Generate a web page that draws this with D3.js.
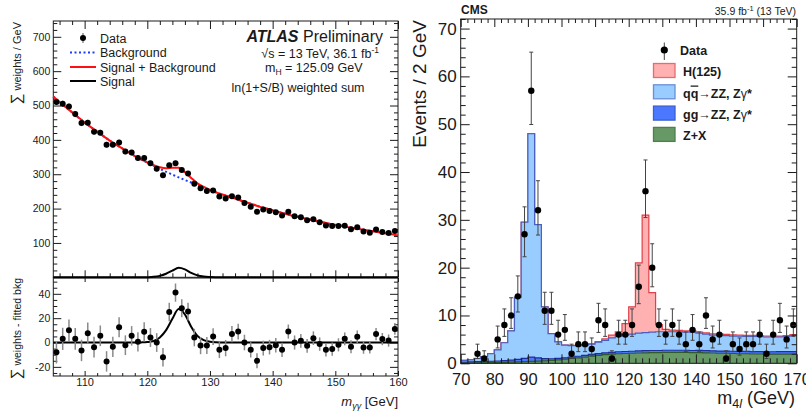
<!DOCTYPE html>
<html>
<head>
<meta charset="utf-8">
<script src="https://cdn.jsdelivr.net/npm/d3@7"></script>
<style>
  body { margin: 0; background: #fff; }
  svg { display: block; }
  text { font-family: "Liberation Sans", Arial, Helvetica, sans-serif; fill: #1a1a1a; }
</style>
</head>
<body>
<svg id="chart" width="806" height="413"></svg>
<script>
// ---- left: ATLAS diphoton, ln(1+S/B) weighted ----
var atlasBinLo = 105, atlasBinWidth = 1;
var atlasData = [510, 505, 497, 475, 449, 450, 424, 421, 386, 386,
                 392, 366, 363, 347, 347, 332, 316, 297, 326, 332,
                 312, 302, 272, 259, 251, 253, 235, 229, 236, 232,
                 216, 205, 191, 197, 193, 189, 180, 191, 178, 175,
                 166, 169, 160, 151, 149, 149, 150, 140, 146, 133,
                 130, 139, 132, 129, 135];
var atlasResid = [-8, 3, 10, 3, -6.5, 7.7, -3.8, 5.5, -15.5, -3.5,
                  12.6, -2.2, 5.5, 0.6, 8.8, 4.1, 0, -12, 25, 41,
                  28.2, 25.4, 4.1, -2.5, -2.5, 4.9, -6, -4.6, 6.9, 9,
                  0, -6, -15, -4.6, -3.8, -2.2, -6, 9, 0, 1.4,
                  -2.7, 3.6, -1.3, -6, -5.4, -1.9, 3, -3.5, 4.7, -4,
                  -4, 6.9, 2.8, 1.6, 11.2];
var atlasErr = [9.2, 9.1, 9.0, 8.9, 8.8, 8.7, 8.6, 8.5, 8.4, 8.3,
                8.2, 8.1, 8.0, 7.9, 7.9, 7.8, 7.7, 7.6, 7.6, 7.5,
                7.4, 7.3, 7.2, 7.1, 7.0, 6.9, 6.8, 6.7, 6.6, 6.5,
                6.4, 6.3, 6.2, 6.1, 6.0, 6.0, 5.9, 5.8, 5.8, 5.7,
                5.6, 5.6, 5.5, 5.5, 5.4, 5.4, 5.3, 5.3, 5.2, 5.2,
                5.1, 5.1, 5.0, 5.0, 4.9];
// fitted curves sampled every 1 GeV from 105 to 160
var fitMassLo = 105;
var fitBkg = [526, 510, 495, 480, 465, 451, 437, 424, 411, 398,
              386, 375, 364, 353, 343, 334, 325, 316, 307, 299,
              291, 283, 276, 268, 261, 254, 247, 241, 235, 229,
              223, 217, 211, 205, 200, 195, 190, 185, 180, 176,
              172, 168, 164, 160, 156, 153, 150, 146, 143, 140,
              137, 134, 131, 128, 125, 122];
var fitSig = [0, 0, 0, 0, 0, 0, 0, 0, 0, 0,
              0, 0, 0, 0, 0.1, 0.4, 1.3, 4.2, 10.2, 19.5,
              27.5, 23, 13, 5.5, 2, 0.7, 0.2, 0, 0, 0,
              0, 0, 0, 0, 0, 0, 0, 0, 0, 0,
              0, 0, 0, 0, 0, 0, 0, 0, 0, 0,
              0, 0, 0, 0, 0, 0];
var atlasXTicks = [110, 120, 130, 140, 150, 160];
var atlasYTicks = [100, 200, 300, 400, 500, 600, 700];
var atlasResTicks = [-20, 0, 20, 40];

// ---- right: CMS m4l, 2 GeV bins 70-170 ----
var cmsBinLo = 70, cmsBinWidth = 2;
var cmsCounts = [0, 0, 2, 1, 0, 5, 8, 10, 14, 27,
                 57, 32, 11, 11, 6, 7, 2, 4, 4, 3,
                 9, 8, 1, 6, 6, 8, 16, 36, 20, 8,
                 6, 8, 6, 4, 7, 4, 10, 5, 6, 1,
                 4, 3, 4, 4, 6, 2, 6, 9, 5, 8];
var zxYield = [0.05, 0.06, 0.08, 0.1, 0.13, 0.16, 0.2, 0.25, 0.3, 0.35,
               0.4, 0.45, 0.52, 0.6, 0.72, 0.85, 1.0, 1.15, 1.3, 1.5,
               1.65, 1.8, 1.9, 2.0, 2.05, 2.1, 2.15, 2.2, 2.25, 2.25,
               2.3, 2.3, 2.3, 2.3, 2.25, 2.25, 2.2, 2.15, 2.1, 2.1,
               2.05, 2.0, 2.0, 1.95, 1.95, 1.9, 1.9, 1.9, 1.9, 1.9];
var ggZZYield = [0.2, 0.22, 0.25, 0.28, 0.3, 0.32, 0.35, 0.4, 0.5, 0.7,
                 0.9, 0.7, 0.45, 0.35, 0.32, 0.3, 0.3, 0.32, 0.34, 0.36,
                 0.38, 0.4, 0.4, 0.42, 0.42, 0.42, 0.43, 0.43, 0.43, 0.43,
                 0.43, 0.43, 0.43, 0.43, 0.43, 0.44, 0.44, 0.45, 0.45, 0.46,
                 0.47, 0.48, 0.49, 0.5, 0.5, 0.51, 0.52, 0.53, 0.54, 0.55];
var qqZZYield = [0.35, 0.42, 0.67, 1.02, 1.57, 2.32, 3.75, 6.15, 13.0, 28.45,
                 46.7, 27.85, 10.83, 5.25, 3.46, 2.65, 2.4, 2.23, 2.16, 2.14,
                 2.37, 2.6, 3.0, 3.28, 3.43, 3.58, 3.72, 3.77, 3.82, 3.92,
                 3.87, 3.87, 3.87, 3.77, 3.82, 3.61, 3.46, 3.3, 3.35, 3.24,
                 3.18, 3.22, 3.11, 3.15, 3.15, 3.09, 3.08, 3.07, 3.16, 3.35];
var higgsYield = [0.01, 0.01, 0.01, 0.01, 0.01, 0.01, 0.01, 0.01, 0.01, 0.01,
                  0.01, 0.01, 0.01, 0.01, 0.01, 0.02, 0.03, 0.04, 0.06, 0.08,
                  0.15, 0.3, 0.6, 0.9, 2.4, 5.7, 14.7, 24.6, 8.3, 1.5,
                  0.5, 0.35, 0.3, 0.28, 0.26, 0.25, 0.25, 0.24, 0.24, 0.23,
                  0.23, 0.22, 0.22, 0.22, 0.21, 0.21, 0.21, 0.2, 0.2, 0.2];
var cmsXTicks = [70, 80, 90, 100, 110, 120, 130, 140, 150, 160, 170];
var cmsYTicks = [0, 10, 20, 30, 40, 50, 60, 70];

var svg = d3.select("#chart");
var ink = "#1a1a1a";

// inward ticks, optionally labelled
function ticks(g, axisFn, scale, vals, len, labelled, size, pad) {
  var ax = axisFn(scale).tickValues(vals).tickSize(-len).tickPadding(pad || 3)
    .tickFormat(labelled ? function (d) { return String(d); } : function () { return ""; });
  g.call(ax);
  g.attr("font-family", null).attr("font-size", size || 10);
  g.select(".domain").remove();
  g.selectAll(".tick line").attr("stroke", ink);
}
function minors(lo, hi, step, major) {
  return d3.range(lo, hi + 1e-9, step).filter(function (v) { return Math.abs(v % major) > 1e-9; });
}

/*---------------------------- ATLAS ----------------------------*/
var xA = d3.scaleLinear().domain([105, 160]).range([53.3, 398]);
var yTop = d3.scaleLinear().domain([0, 746]).range([277.3, 21]);
var yRes = d3.scaleLinear().domain([-27.5, 53]).range([376, 278]);

var atlasX = atlasData.map(function (d, i) { return atlasBinLo + (i + 0.5) * atlasBinWidth; });
var fitX = fitBkg.map(function (d, i) { return fitMassLo + i; });
var fitSum = fitBkg.map(function (d, i) { return d + fitSig[i]; });

var left = svg.append("g");

// frames
left.append("rect").attr("x", xA(105)).attr("y", yTop(746)).attr("width", xA(160) - xA(105))
  .attr("height", yTop(0) - yTop(746)).attr("fill", "none").attr("stroke", ink);
left.append("rect").attr("x", xA(105)).attr("y", yRes(53)).attr("width", xA(160) - xA(105))
  .attr("height", yRes(-27.5) - yRes(53)).attr("fill", "none").attr("stroke", ink);

var xMinA = minors(106, 160, 2, 10);
// top panel ticks
ticks(left.append("g").attr("transform", "translate(" + xA(105) + ",0)"), d3.axisLeft, yTop, atlasYTicks, 8, true, 10.5, 3);
ticks(left.append("g").attr("transform", "translate(" + xA(105) + ",0)"), d3.axisLeft, yTop, minors(20, 740, 20, 100), 4);
ticks(left.append("g").attr("transform", "translate(" + xA(160) + ",0)"), d3.axisRight, yTop, atlasYTicks, 8);
ticks(left.append("g").attr("transform", "translate(" + xA(160) + ",0)"), d3.axisRight, yTop, minors(20, 740, 20, 100), 4);
ticks(left.append("g").attr("transform", "translate(0," + yTop(746) + ")"), d3.axisTop, xA, atlasXTicks, 8);
ticks(left.append("g").attr("transform", "translate(0," + yTop(746) + ")"), d3.axisTop, xA, xMinA, 4);
ticks(left.append("g").attr("transform", "translate(0," + yTop(0) + ")"), d3.axisBottom, xA, atlasXTicks, 7);
ticks(left.append("g").attr("transform", "translate(0," + yTop(0) + ")"), d3.axisBottom, xA, xMinA, 4);
// residual panel ticks
ticks(left.append("g").attr("transform", "translate(" + xA(105) + ",0)"), d3.axisLeft, yRes, atlasResTicks, 8, true, 10.5, 3);
ticks(left.append("g").attr("transform", "translate(" + xA(105) + ",0)"), d3.axisLeft, yRes, minors(-25, 50, 5, 20), 4);
ticks(left.append("g").attr("transform", "translate(" + xA(160) + ",0)"), d3.axisRight, yRes, atlasResTicks, 8);
ticks(left.append("g").attr("transform", "translate(" + xA(160) + ",0)"), d3.axisRight, yRes, minors(-25, 50, 5, 20), 4);
ticks(left.append("g").attr("transform", "translate(0," + yRes(53) + ")"), d3.axisTop, xA, atlasXTicks, 4);
ticks(left.append("g").attr("transform", "translate(0," + yRes(-27.5) + ")"), d3.axisBottom, xA, atlasXTicks, 5, true, 11, 2.5);
ticks(left.append("g").attr("transform", "translate(0," + yRes(-27.5) + ")"), d3.axisBottom, xA, xMinA, 3);

// fit curves
var lineTop = d3.line().x(function (d) { return xA(d[0]); }).y(function (d) { return yTop(d[1]); }).curve(d3.curveMonotoneX);
var lineRes = d3.line().x(function (d) { return xA(d[0]); }).y(function (d) { return yRes(d[1]); }).curve(d3.curveMonotoneX);
function pairs(xs, ys) { return xs.map(function (x, i) { return [x, ys[i]]; }); }

left.append("path").attr("d", lineTop(pairs(fitX, fitBkg))).attr("fill", "none")
  .attr("stroke", "#1a3cff").attr("stroke-width", 2).attr("stroke-dasharray", "2,2.5");
left.append("path").attr("d", lineTop(pairs(fitX, fitSum))).attr("fill", "none")
  .attr("stroke", "#ff1010").attr("stroke-width", 2);
left.append("path").attr("d", lineTop(pairs(fitX, fitSig))).attr("fill", "none")
  .attr("stroke", "#000").attr("stroke-width", 2);
left.append("path").attr("d", lineRes(pairs(fitX, fitSig))).attr("fill", "none")
  .attr("stroke", "#000").attr("stroke-width", 2);

// data points
var errCol = "#8a8a8a";
left.append("g").selectAll("line").data(atlasData).join("line")
  .attr("x1", function (d, i) { return xA(atlasX[i]); }).attr("x2", function (d, i) { return xA(atlasX[i]); })
  .attr("y1", function (d, i) { return yTop(d - atlasErr[i]); }).attr("y2", function (d, i) { return yTop(d + atlasErr[i]); })
  .attr("stroke", errCol).attr("stroke-width", 1.5);
left.append("g").selectAll("circle").data(atlasData).join("circle")
  .attr("cx", function (d, i) { return xA(atlasX[i]); }).attr("cy", function (d) { return yTop(d); })
  .attr("r", 3).attr("fill", "#000");
left.append("g").selectAll("line").data(atlasResid).join("line")
  .attr("x1", function (d, i) { return xA(atlasX[i]); }).attr("x2", function (d, i) { return xA(atlasX[i]); })
  .attr("y1", function (d, i) { return yRes(d - atlasErr[i]); }).attr("y2", function (d, i) { return yRes(d + atlasErr[i]); })
  .attr("stroke", errCol).attr("stroke-width", 1.5);
left.append("g").selectAll("circle").data(atlasResid).join("circle")
  .attr("cx", function (d, i) { return xA(atlasX[i]); }).attr("cy", function (d) { return yRes(d); })
  .attr("r", 3).attr("fill", "#000");

// legend
var lg = left.append("g").attr("font-size", 12.5);
lg.append("line").attr("x1", 83).attr("x2", 83).attr("y1", 33).attr("y2", 43).attr("stroke", errCol).attr("stroke-width", 1.5);
lg.append("circle").attr("cx", 83).attr("cy", 38).attr("r", 3).attr("fill", "#000");
lg.append("line").attr("x1", 70).attr("x2", 96).attr("y1", 52.5).attr("y2", 52.5)
  .attr("stroke", "#1a3cff").attr("stroke-width", 2).attr("stroke-dasharray", "2,2.5");
lg.append("line").attr("x1", 70).attr("x2", 96).attr("y1", 67).attr("y2", 67).attr("stroke", "#ff1010").attr("stroke-width", 2);
lg.append("line").attr("x1", 70).attr("x2", 96).attr("y1", 81).attr("y2", 81).attr("stroke", "#000").attr("stroke-width", 2);
[["Data", 42.5], ["Background", 57], ["Signal + Background", 71.5], ["Signal", 85.5]].forEach(function (r) {
  lg.append("text").attr("x", 100).attr("y", r[1]).text(r[0]);
});

// labels
var t1 = left.append("text").attr("x", 383).attr("y", 41.5).attr("text-anchor", "end").attr("font-size", 16);
t1.append("tspan").attr("font-weight", "bold").attr("font-style", "italic").text("ATLAS");
t1.append("tspan").text(" Preliminary");
var t2 = left.append("text").attr("x", 379).attr("y", 58).attr("text-anchor", "end").attr("font-size", 12.5);
t2.append("tspan").text("\u221As = 13 TeV, 36.1 fb");
t2.append("tspan").attr("dy", -5).attr("font-size", 8.5).text("-1");
var t3 = left.append("text").attr("x", 265).attr("y", 72).attr("font-size", 12.5);
t3.append("tspan").text("m");
t3.append("tspan").attr("dy", 3).attr("font-size", 8.5).text("H");
t3.append("tspan").attr("dy", -3).text(" = 125.09 GeV");
left.append("text").attr("x", 298).attr("y", 92).attr("text-anchor", "middle").attr("font-size", 12.5)
  .text("ln(1+S/B) weighted sum");

var yt1 = left.append("text").attr("transform", "translate(20.5,22) rotate(-90)").attr("text-anchor", "end").attr("font-size", 11);
yt1.append("tspan").attr("font-size", 15).text("\u2211");
yt1.append("tspan").text(" weights / GeV");
var yt2 = left.append("text").attr("transform", "translate(20.5,278) rotate(-90)").attr("text-anchor", "end").attr("font-size", 10.5);
yt2.append("tspan").attr("font-size", 15).text("\u2211");
yt2.append("tspan").text(" weights - fitted bkg");
var xt = left.append("text").attr("x", 398).attr("y", 406).attr("text-anchor", "end").attr("font-size", 13);
xt.append("tspan").attr("font-style", "italic").text("m");
xt.append("tspan").attr("dy", 3).attr("font-size", 9).attr("font-style", "italic").text("\u03B3\u03B3");
xt.append("tspan").attr("dy", -3).text(" [GeV]");

/*----------------------------- CMS -----------------------------*/
var xC = d3.scaleLinear().domain([70, 170]).range([460.7, 796.7]);
var yC = d3.scaleLinear().domain([0, 72]).range([363.3, 19]);
var right = svg.append("g");

function stepPoints(vals) {
  var pts = [];
  vals.forEach(function (v, i) {
    var lo = cmsBinLo + i * cmsBinWidth;
    pts.push([lo, v], [lo + cmsBinWidth, v]);
  });
  return pts;
}
var layers = [
  { vals: zxYield, fill: "#669966", line: "#2e5a2e" },
  { vals: ggZZYield, fill: "#4b78ff", line: "#1c2f9c" },
  { vals: qqZZYield, fill: "#99ccff", line: "#4a5fc4" },
  { vals: higgsYield, fill: "#ffb0b0", line: "#e0404a" }
];
var run = zxYield.map(function () { return 0; });
layers.forEach(function (l) {
  run = run.map(function (v, i) { return v + l.vals[i]; });
  l.top = run;
});
var stepArea = d3.area().x(function (d) { return xC(d[0]); }).y0(yC(0)).y1(function (d) { return yC(d[1]); });
var stepLine = d3.line().x(function (d) { return xC(d[0]); }).y(function (d) { return yC(d[1]); });
layers.slice().reverse().forEach(function (l) {
  var pts = stepPoints(l.top);
  right.append("path").attr("d", stepArea(pts)).attr("fill", l.fill);
  right.append("path").attr("d", stepLine(pts)).attr("fill", "none").attr("stroke", l.line).attr("stroke-width", 1.2);
});

// data with Poisson bars
var cmsPts = [];
cmsCounts.forEach(function (n, i) {
  if (n > 0) cmsPts.push({ x: cmsBinLo + (i + 0.5) * cmsBinWidth, n: n,
    lo: n - Math.sqrt(n + 0.25) + 0.5, hi: n + Math.sqrt(n + 0.25) + 0.5 });
});
var bars = right.append("g").attr("stroke", "#444").attr("stroke-width", 1);
cmsPts.forEach(function (p) {
  var cx = xC(p.x);
  bars.append("line").attr("x1", cx).attr("x2", cx).attr("y1", yC(p.lo)).attr("y2", yC(p.hi));
  bars.append("line").attr("x1", cx - 2).attr("x2", cx + 2).attr("y1", yC(p.lo)).attr("y2", yC(p.lo));
  bars.append("line").attr("x1", cx - 2).attr("x2", cx + 2).attr("y1", yC(p.hi)).attr("y2", yC(p.hi));
});
right.append("g").selectAll("circle").data(cmsPts).join("circle")
  .attr("cx", function (p) { return xC(p.x); }).attr("cy", function (p) { return yC(p.n); })
  .attr("r", 3.2).attr("fill", "#000");

// frame and ticks
right.append("rect").attr("x", xC(70)).attr("y", yC(72)).attr("width", xC(170) - xC(70))
  .attr("height", yC(0) - yC(72)).attr("fill", "none").attr("stroke", ink);
var xMinC = minors(72, 170, 2, 10), yMinC = minors(2, 72, 2, 10);
ticks(right.append("g").attr("transform", "translate(" + xC(70) + ",0)"), d3.axisLeft, yC, cmsYTicks, 9, true, 17, 4);
ticks(right.append("g").attr("transform", "translate(" + xC(70) + ",0)"), d3.axisLeft, yC, yMinC, 5);
ticks(right.append("g").attr("transform", "translate(" + xC(170) + ",0)"), d3.axisRight, yC, cmsYTicks, 9);
ticks(right.append("g").attr("transform", "translate(" + xC(170) + ",0)"), d3.axisRight, yC, yMinC, 5);
ticks(right.append("g").attr("transform", "translate(0," + yC(0) + ")"), d3.axisBottom, xC, cmsXTicks, 9, true, 16.5, 10);
ticks(right.append("g").attr("transform", "translate(0," + yC(0) + ")"), d3.axisBottom, xC, xMinC, 5);
ticks(right.append("g").attr("transform", "translate(0," + yC(72) + ")"), d3.axisTop, xC, cmsXTicks, 8);
ticks(right.append("g").attr("transform", "translate(0," + yC(72) + ")"), d3.axisTop, xC, xMinC, 4);

// legend
var cl = right.append("g").attr("font-size", 12.5).attr("font-weight", "bold");
cl.append("line").attr("x1", 664.3).attr("x2", 664.3).attr("y1", 42.5).attr("y2", 60).attr("stroke", "#444");
cl.append("circle").attr("cx", 664.3).attr("cy", 50).attr("r", 3.6).attr("fill", "#000");
cl.append("text").attr("x", 680).attr("y", 54.5).text("Data");
var legRows = [
  { fill: "#ffb0b0", line: "#e86a70", y: 63.5 },
  { fill: "#99ccff", line: "#6a8fd6", y: 84.8 },
  { fill: "#4b78ff", line: "#3a5fd0", y: 106.1 },
  { fill: "#669966", line: "#4f7f4f", y: 127.4 }
];
legRows.forEach(function (r) {
  cl.append("rect").attr("x", 653.5).attr("y", r.y).attr("width", 21.5).attr("height", 14)
    .attr("fill", r.fill).attr("stroke", r.line).attr("stroke-width", 1.3);
});
cl.append("text").attr("x", 683).attr("y", 76).text("H(125)");
var lq = cl.append("text").attr("x", 683).attr("y", 97.5);
lq.append("tspan").text("q");
lq.append("tspan").style("text-decoration", "overline").text("q");
lq.append("tspan").text("\u2192ZZ, Z");
lq.append("tspan").attr("font-weight", "normal").text("\u03B3");
lq.append("tspan").text("*");
var lgg = cl.append("text").attr("x", 683).attr("y", 118.5);
lgg.append("tspan").text("gg\u2192ZZ, Z");
lgg.append("tspan").attr("font-weight", "normal").text("\u03B3");
lgg.append("tspan").text("*");
cl.append("text").attr("x", 683).attr("y", 140).text("Z+X");

// titles
right.append("text").attr("x", 461).attr("y", 14).attr("font-size", 12).attr("font-weight", "bold").text("CMS");
var lumi = right.append("text").attr("x", 796).attr("y", 14.5).attr("text-anchor", "end").attr("font-size", 10.5);
lumi.append("tspan").text("35.9 fb");
lumi.append("tspan").attr("dy", -4).attr("font-size", 7.5).text("-1");
lumi.append("tspan").attr("dy", 4).text(" (13 TeV)");
right.append("text").attr("transform", "translate(426,20) rotate(-90)").attr("text-anchor", "end")
  .attr("font-size", 19).text("Events / 2 GeV");
var mx = right.append("text").attr("x", 795).attr("y", 404).attr("text-anchor", "end").attr("font-size", 18);
mx.append("tspan").text("m");
mx.append("tspan").attr("dy", 4).attr("font-size", 12.5).text("4");
mx.append("tspan").attr("font-size", 12.5).attr("font-style", "italic").text("l");
mx.append("tspan").attr("dy", -4).text(" (GeV)");
</script>
</body>
</html>
